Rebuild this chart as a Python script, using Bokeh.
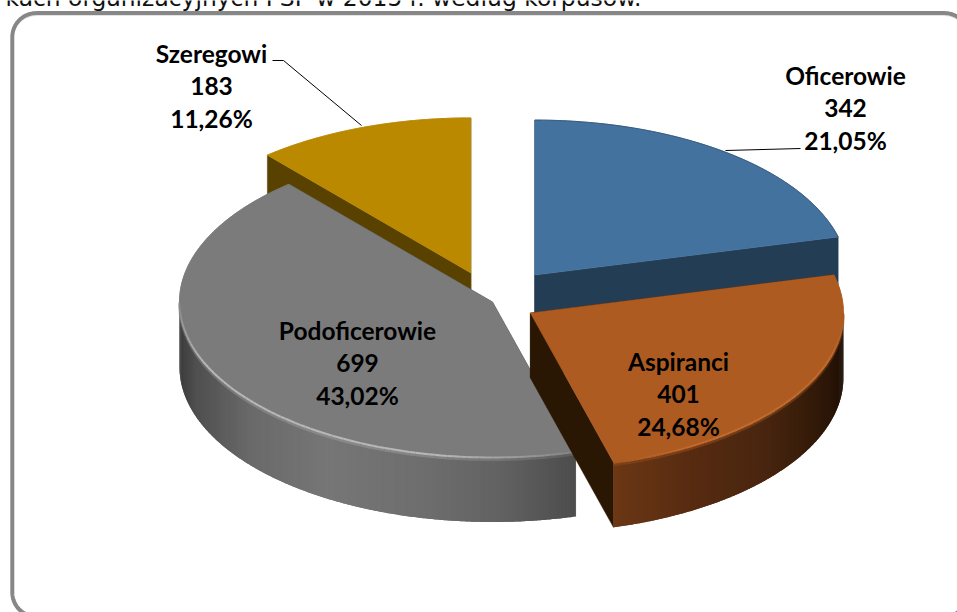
import numpy as np
from bokeh.plotting import figure
from bokeh.embed import file_html
from bokeh.resources import INLINE
from bokeh.core.properties import value

# --- data ---
categories = ["Oficerowie", "Aspiranci", "Podoficerowie", "Szeregowi"]
counts = [342, 401, 699, 183]
shares = ["21,05%", "24,68%", "43,02%", "11,26%"]
explosion = [0.22, 0.14, 0.0, 0.2]
caption = "kach organizacyjnych PSP w 2015 r. według korpusów."

# --- style ---
top_colors = ["#44729F", "#AE5B22", "#7B7B7B", "#BA8900"]
edge_colors = ["#34587C", "#AE5B22", "#7B7B7B", "#BA8900"]
inner_colors = ["#233D54", "#2A1703", "#4D4D4D", "#594100"]
wall_pos = [-1.0, -0.95, -0.77, -0.52, -0.23, 0.025, 0.266, 0.54, 0.73, 0.86, 0.96, 1.0]
wall_stops = {
    2: ["#3A3A3A", "#4F4F4F", "#6A6A6A", "#767676", "#6E6E6E", "#626262", "#4C4C4C",
        "#4C4C4C", "#4C4C4C", "#4C4C4C", "#4C4C4C", "#4C4C4C"],
    1: ["#6B3715"] * 7 + ["#552A10", "#4A2610", "#3A1E0A", "#2A1507", "#1E0F05"],
}
rim_colors = {2: ("#858585", "#B8B8B8"), 1: ("#A85820", "#C46C2E")}

W, H = 957, 612
CX, CY, RX, RY, DEPTH = 492.0, 301.5, 313.0, 155.0, 65.0


def hex2rgb(c):
    return np.array([int(c[i:i + 2], 16) for i in (1, 3, 5)], dtype=float)


def shade(stops, t):
    rgb = np.array([hex2rgb(c) for c in stops])
    vals = [np.interp(t, wall_pos, rgb[:, i]) for i in range(3)]
    return "#%02x%02x%02x" % tuple(int(round(v)) for v in vals)


p = figure(width=W, height=H, x_range=(0, W), y_range=(H, 0),
           output_backend="svg", toolbar_location=None, min_border=0,
           styles={"position": "absolute", "left": "0px", "top": "0px"})
p.axis.visible = False
p.grid.visible = False
p.outline_line_color = None
p.background_fill_color = "white"
p.border_fill_color = "white"

# rounded frame, running off the right and bottom of the window
fl, ft, fr, fb, fr_r = 11.8, 12.6, 968.0, 616.0, 24.0
arc = np.radians(np.linspace(0, 90, 24))
fx = np.concatenate([fl + fr_r - fr_r * np.cos(arc), fr - fr_r + fr_r * np.sin(arc),
                     fr - fr_r + fr_r * np.cos(arc), fl + fr_r - fr_r * np.sin(arc), [fl]])
fy = np.concatenate([ft + fr_r - fr_r * np.sin(arc), ft + fr_r - fr_r * np.cos(arc),
                     fb - fr_r + fr_r * np.sin(arc), fb - fr_r + fr_r * np.cos(arc), [ft + fr_r]])
p.line(fx, fy + 2, line_color="#E4E4E4", line_width=2)
p.line(fx, fy, line_color="#878787", line_width=4)

p.text([5], [-3], text=[caption], text_font=value("DejaVu Sans"),
       text_font_size="23.4px", text_baseline="alphabetic", text_align="left", text_color="#111111")

# pie geometry from the values
total = sum(counts)
edges = np.concatenate([[0], np.cumsum(counts)]) / total * 2 * np.pi
slices = []
for i in range(len(counts)):
    a0, a1 = edges[i], edges[i + 1]
    mid = (a0 + a1) / 2
    ax = CX + explosion[i] * RX * np.sin(mid)
    ay = CY - explosion[i] * RY * np.cos(mid)
    slices.append((i, a0, a1, ax, ay))


def pt(ax, ay, th):
    return ax + RX * np.sin(th), ay - RY * np.cos(th)


# back to front: Szeregowi, Oficerowie, Podoficerowie, Aspiranci
for i in [3, 0, 2, 1]:
    _, a0, a1, ax, ay = slices[i]
    # radial walls
    for th in (a0, a1):
        ex, ey = pt(ax, ay, th)
        p.patch([ax, ex, ex, ax], [ay, ey, ey + DEPTH, ay + DEPTH],
                fill_color=inner_colors[i], line_color=inner_colors[i], line_width=0.5)
    # outer wall, front-facing part only, as narrow shaded strips that overlap
    lo, hi = max(a0, np.pi / 2), min(a1, 3 * np.pi / 2)
    if hi > lo and i in wall_stops:
        ths = np.linspace(lo, hi, int(np.degrees(hi - lo) * 1.5) + 2)
        xs, ys, cs = [], [], []
        for k in range(len(ths) - 1):
            t0, t1 = ths[k], ths[min(k + 2, len(ths) - 1)]
            seg = np.linspace(t0, t1, 5)
            sx, sy = pt(ax, ay, seg)
            xs.append(np.concatenate([sx, sx[::-1]]))
            ys.append(np.concatenate([sy, sy[::-1] + DEPTH]))
            cs.append(shade(wall_stops[i], np.sin((ths[k] + ths[k + 1]) / 2)))
        p.patches(xs, ys, fill_color=cs, line_color=None)
    # top face
    ths = np.linspace(a0, a1, 200)
    tx, ty = pt(ax, ay, ths)
    p.patch(np.concatenate([[ax], tx]), np.concatenate([[ay], ty]),
            fill_color=top_colors[i], line_color=top_colors[i], line_width=0.5)
    p.line(tx, ty, line_color=edge_colors[i], line_width=1)
    # light bevel along the front edge
    if hi > lo and i in rim_colors:
        ths = np.linspace(lo, hi, 90)
        rx_, ry_ = pt(ax, ay, ths)
        c0, c1 = hex2rgb(rim_colors[i][0]), hex2rgb(rim_colors[i][1])
        weight = np.clip(np.sin((ths - lo) / (hi - lo) * np.pi) * 1.5, 0, 1)
        cols = ["#%02x%02x%02x" % tuple(int(v) for v in c0 + (c1 - c0) * w) for w in weight[:-1]]
        p.segment(rx_[:-1], ry_[:-1] + 2.5, rx_[1:], ry_[1:] + 2.5, line_color=cols,
                  line_width=3, line_alpha=0.3)
        p.segment(rx_[:-1], ry_[:-1] + 0.5, rx_[1:], ry_[1:] + 0.5, line_color=cols, line_width=2)

# leader lines
p.line([272, 283, 361], [60, 60, 125], line_color="#000000", line_width=1)
p.line([725, 800], [150, 148], line_color="#000000", line_width=1)

# labels
label_x = [845, 678, 357, 211]
label_y = [74.5, 360.5, 329.5, 52.5]
line_step = 32.5
for i, name in enumerate(categories):
    rows = [name, str(counts[i]), shares[i]]
    p.text([label_x[i]] * 3, [label_y[i] + k * line_step for k in range(3)], text=rows,
           text_font=value("Lato"), text_font_style="bold", text_font_size="24.5px",
           text_align="center", text_baseline="middle", text_color="#000000")

open("out.html", "w").write(file_html(p, INLINE))
